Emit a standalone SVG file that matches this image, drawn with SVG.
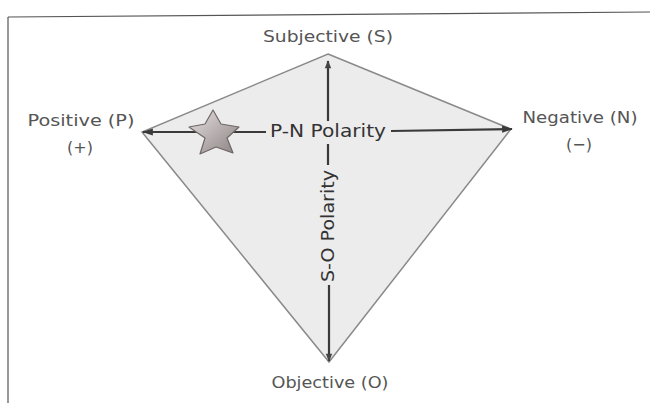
<svg xmlns="http://www.w3.org/2000/svg" width="650" height="403" viewBox="0 0 650 403">
<defs>
<style>
.lbl{font-family:"DejaVu Sans","Liberation Sans",sans-serif;font-size:16px;fill:#555;text-anchor:middle}
.pol{font-family:"DejaVu Sans","Liberation Sans",sans-serif;font-size:17px;fill:#333;text-anchor:middle}
.ax{stroke:#3a3a3a;stroke-width:2.2;fill:none}
</style>
<linearGradient id="sg" x1="0" y1="0" x2="1" y2="1">
<stop offset="0" stop-color="#e8e2e2"/>
<stop offset="1" stop-color="#8a8080"/>
</linearGradient>
<marker id="ah" viewBox="0 0 12 10" refX="11" refY="5" markerWidth="12" markerHeight="9" orient="auto" markerUnits="userSpaceOnUse">
<path d="M0,1 L12,5 L0,9 Z" fill="#3a3a3a"/>
</marker>
<marker id="ahs" viewBox="0 0 10 10" refX="9" refY="5" markerWidth="10" markerHeight="8" orient="auto" markerUnits="userSpaceOnUse">
<path d="M0,1 L10,5 L0,9 Z" fill="#444"/>
</marker>
</defs>
<rect width="650" height="403" fill="#fff"/>
<g id="frame" stroke="#555" stroke-width="1.2" fill="none">
<path d="M8,17 L650,12"/>
<path d="M8,17 L8,403"/>
</g>
<g id="kite">
<polygon points="328,54 511,129 329,362 142,132" fill="#ececec" stroke="#8a8a8a" stroke-width="1.5"/>
</g>
<g id="connectors">
<line class="ax" x1="266" y1="132" x2="143" y2="132" marker-end="url(#ah)" stroke-width="2.5"/>
<line class="ax" x1="391" y1="131" x2="512" y2="129" marker-end="url(#ah)" stroke-width="2.5"/>
<line class="ax" x1="328" y1="121" x2="328" y2="61" marker-end="url(#ahs)"/>
<line class="ax" x1="328" y1="144" x2="328" y2="165"/>
<line class="ax" x1="329" y1="285" x2="329" y2="361" marker-end="url(#ahs)"/>
</g>
<g id="star">
<polygon points="213,110 221,124 239,127 227,138 233,153 216,147 200,154 205,138 189,127 205,124" fill="url(#sg)" stroke="#6f6767" stroke-width="1.2" stroke-linejoin="round"/>
</g>
<g id="pn-label"><text class="pol" x="328" y="137" textLength="116" lengthAdjust="spacingAndGlyphs">P-N Polarity</text></g>
<g id="so-label"><text class="pol" transform="translate(334,226) rotate(-90)" textLength="112" lengthAdjust="spacingAndGlyphs">S-O Polarity</text></g>
<g id="node-s"><text class="lbl" x="328" y="42" textLength="130" lengthAdjust="spacingAndGlyphs">Subjective (S)</text></g>
<g id="node-p"><text class="lbl" x="81" y="126" textLength="107" lengthAdjust="spacingAndGlyphs">Positive (P)</text><text class="lbl" x="80" y="153">(+)</text></g>
<g id="node-n"><text class="lbl" x="580" y="123" textLength="115" lengthAdjust="spacingAndGlyphs">Negative (N)</text><text class="lbl" x="579" y="150">(−)</text></g>
<g id="node-o"><text class="lbl" x="330" y="388" textLength="117" lengthAdjust="spacingAndGlyphs">Objective (O)</text></g>
</svg>
